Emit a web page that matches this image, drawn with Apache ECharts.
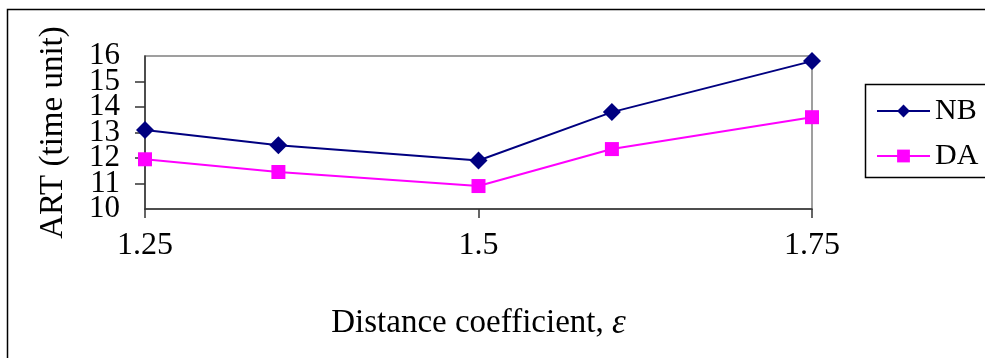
<!DOCTYPE html>
<html>
<head>
<meta charset="utf-8">
<script src="https://cdn.jsdelivr.net/npm/echarts@6/dist/echarts.min.js"></script>
<style>
  html, body { margin: 0; padding: 0; background: #fff; }
  #chart { width: 985px; height: 358px; }
</style>
</head>
<body>
<div id="chart"></div>
<script>
// Distance coefficient values and average response time per method
const epsilon = [1.25, 1.35, 1.5, 1.6, 1.75];
const nbValues = [13.1, 12.5, 11.9, 13.8, 15.8];
const daValues = [11.95, 11.45, 10.9, 12.35, 13.6];
const seriesNames = ['NB', 'DA'];
const yMin = 10;
const yMax = 16;

const FONT = '"Liberation Serif", "DejaVu Serif", serif';

const chart = echarts.init(document.getElementById('chart'), null, { renderer: 'canvas' });

function pairs(xs, ys) {
  return xs.map((x, i) => [x, ys[i]]);
}

const yLabelStyle = { margin: 25, fontFamily: FONT, fontSize: 31, color: '#000' };

chart.setOption({
  animation: false,
  backgroundColor: '#ffffff',
  graphic: [
    {
      type: 'rect',
      shape: { x: 7.5, y: 9.5, width: 1000, height: 400 },
      style: { fill: 'none', stroke: '#000', lineWidth: 1.5 },
      z: 0
    },
    {
      type: 'rect',
      shape: { x: 865.5, y: 84.5, width: 200, height: 93 },
      style: { fill: 'none', stroke: '#000', lineWidth: 1.5 },
      z: 0
    }
  ],
  grid: {
    left: 145, top: 56, right: 173, bottom: 149,
    show: true, borderColor: '#808080', borderWidth: 1.5
  },
  legend: {
    orient: 'vertical',
    left: 871, top: 91,
    itemWidth: 53, itemHeight: 16, itemGap: 15,
    textStyle: { fontFamily: FONT, fontSize: 30, color: '#000' },
    data: seriesNames
  },
  xAxis: {
    type: 'value',
    min: 1.25, max: 1.75, interval: 0.25,
    name: 'Distance coefficient, {eps|ε}',
    nameLocation: 'middle', nameGap: 97,
    nameTextStyle: {
      fontFamily: FONT, fontSize: 33, color: '#000',
      rich: { eps: { fontFamily: FONT, fontSize: 35, fontStyle: 'italic', color: '#000' } }
    },
    axisLine: { show: true, lineStyle: { color: '#333', width: 1.5 } },
    axisTick: { show: true, length: 9, lineStyle: { color: '#333', width: 1.5 } },
    axisLabel: {
      margin: 21, fontFamily: FONT, fontSize: 32, color: '#000',
      showMinLabel: true, showMaxLabel: true,
      formatter: v => String(+v.toFixed(2))
    },
    splitLine: { show: false }
  },
  yAxis: [
    {
      // main value axis: line, ticks and the inner labels 11–15
      type: 'value',
      min: yMin, max: yMax, interval: 1,
      position: 'left',
      name: 'ART (time unit)',
      nameLocation: 'middle', nameGap: 75,
      nameTextStyle: { fontFamily: FONT, fontSize: 33, color: '#000' },
      axisLine: { show: true, lineStyle: { color: '#333', width: 1.5 } },
      axisTick: { show: true, length: 10, lineStyle: { color: '#333', width: 1.5 } },
      axisLabel: Object.assign({ showMinLabel: false, showMaxLabel: false }, yLabelStyle),
      splitLine: { show: false }
    },
    {
      // companion axis on the same edge carrying the end labels 10 and 16
      type: 'value',
      min: yMin, max: yMax, interval: yMax - yMin,
      position: 'left', offset: 0,
      axisLine: { show: false },
      axisTick: { show: false },
      axisLabel: Object.assign({ showMinLabel: true, showMaxLabel: true }, yLabelStyle),
      splitLine: { show: false }
    }
  ],
  series: [
    {
      name: seriesNames[0],
      type: 'line',
      data: pairs(epsilon, nbValues),
      symbol: 'diamond', symbolSize: 18,
      lineStyle: { color: '#000080', width: 2 },
      itemStyle: { color: '#000080' }
    },
    {
      name: seriesNames[1],
      type: 'line',
      data: pairs(epsilon, daValues),
      symbol: 'rect', symbolSize: 14,
      lineStyle: { color: '#ff00ff', width: 2 },
      itemStyle: { color: '#ff00ff' }
    }
  ]
});
</script>
</body>
</html>
